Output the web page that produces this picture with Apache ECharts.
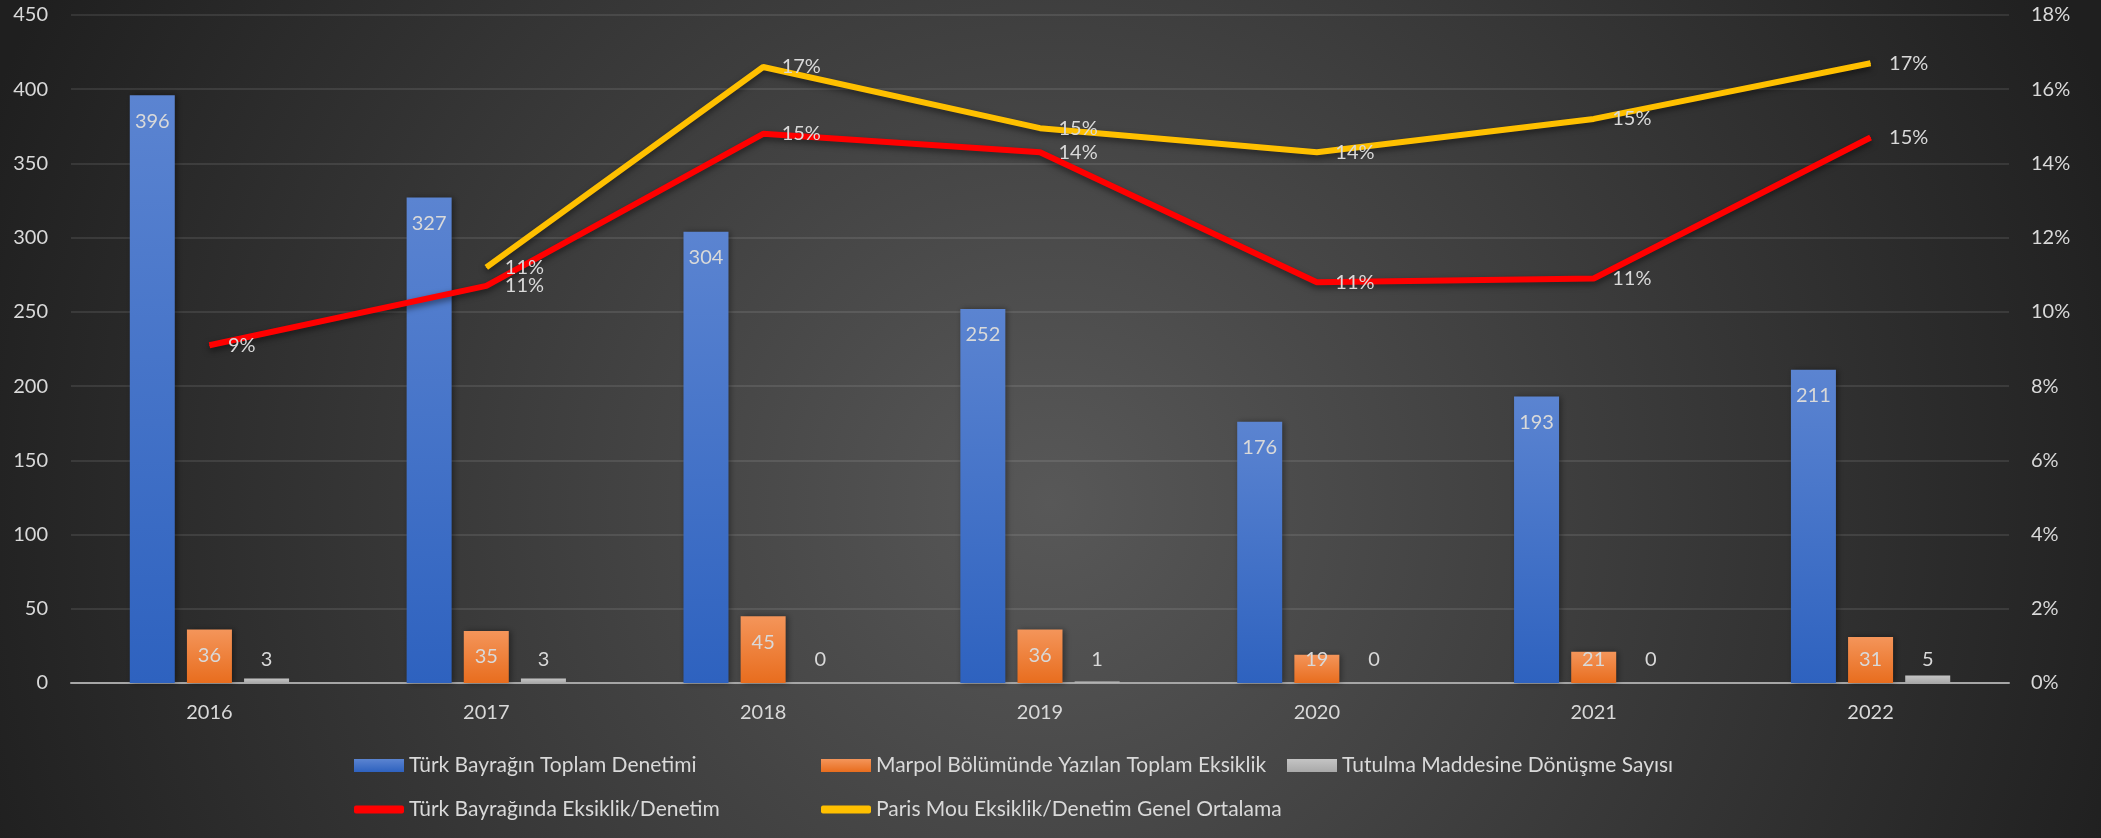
<!DOCTYPE html>
<html>
<head>
<meta charset="utf-8">
<title>Denetim grafiği</title>
<script src="https://cdn.jsdelivr.net/npm/echarts@6/dist/echarts.min.js"></script>
<style>
  html, body { margin: 0; padding: 0; background: #2a2a2a; }
  #chart { width: 2101px; height: 838px; }
</style>
</head>
<body>
<div id="chart"></div>
<script>
// veriler
const years = ['2016', '2017', '2018', '2019', '2020', '2021', '2022']
const toplamDenetim = [396, 327, 304, 252, 176, 193, 211]
const marpolEksiklik = [36, 35, 45, 36, 19, 21, 31]
const tutulmaSayisi = [3, 3, 0, 1, 0, 0, 5]
// yüzde değerleri (%)
const turkOran = [9.1, 10.7, 14.8, 14.3, 10.8, 10.9, 14.7]
const parisOran = [null, 11.2, 16.6, 14.95, 14.3, 15.2, 16.7]

const names = [
  'Türk Bayrağın Toplam Denetimi',
  'Marpol Bölümünde Yazılan Toplam Eksiklik',
  'Tutulma Maddesine Dönüşme Sayısı',
  'Türk Bayrağında Eksiklik/Denetim',
  'Paris Mou Eksiklik/Denetim Genel Ortalama'
]

const textColor = '#d9d9d9'
const fontFamily = 'Lato, "Noto Sans", sans-serif'

function grad(top, bottom) {
  return new echarts.graphic.LinearGradient(0, 0, 0, 1, [
    { offset: 0, color: top },
    { offset: 1, color: bottom }
  ])
}

const blue = grad('#5b84d1', '#2e62bf')
const orange = grad('#f4955a', '#e86d1e')
const gray = grad('#c4c4c4', '#a9a9a9')

function legendAt(name, left, top, icon, h) {
  return {
    data: [name],
    left: left,
    top: top,
    icon: icon,
    itemWidth: 50,
    itemHeight: h,
    textStyle: { color: textColor, fontSize: 21, fontFamily: fontFamily },
    selectedMode: false
  }
}

// kısa çubuklarda etiket eksenin üstünde kalsın (Excel gibi)
const marpolData = marpolEksiklik.map(v => v < 34
  ? { value: v, label: { position: 'insideBottom', distance: 13 } }
  : v)

const chart = echarts.init(document.getElementById('chart'))
chart.setOption({
  backgroundColor: {
    type: 'radial', x: 0.5, y: 0.6, r: 1.35,
    colorStops: [
      { offset: 0, color: '#585858' },
      { offset: 1, color: '#1f1f1f' }
    ]
  },
  textStyle: { fontFamily: fontFamily },
  animation: false,
  grid: { left: 71, right: 92, top: 15, bottom: 155 },
  legend: [
    legendAt(names[0], 349, 750, 'rect', 13),
    legendAt(names[1], 816, 750, 'rect', 13),
    legendAt(names[2], 1282, 750, 'rect', 13),
    legendAt(names[3], 349, 794, 'roundRect', 8),
    legendAt(names[4], 816, 794, 'roundRect', 8)
  ],
  xAxis: {
    type: 'category',
    data: years,
    axisLine: { lineStyle: { color: '#a6a6a6', width: 2 } },
    axisTick: { show: false },
    axisLabel: { color: textColor, fontSize: 20, margin: 20 }
  },
  yAxis: [{
    type: 'value',
    min: 0,
    max: 450,
    interval: 50,
    axisLine: { show: false },
    axisTick: { show: false },
    axisLabel: { color: textColor, fontSize: 20, margin: 23 },
    splitLine: { lineStyle: { color: 'rgba(255,255,255,0.13)', width: 1.5 } }
  }, {
    type: 'value',
    min: 0,
    max: 18,
    interval: 2,
    axisLine: { show: false },
    axisTick: { show: false },
    axisLabel: { color: textColor, fontSize: 20, margin: 22, formatter: '{value}%' },
    splitLine: { show: false }
  }],
  series: [{
    name: names[0],
    type: 'bar',
    data: toplamDenetim,
    barWidth: 45,
    barGap: '27%',
    itemStyle: { color: blue, shadowColor: 'rgba(0,0,0,0.4)', shadowBlur: 6, shadowOffsetX: 2 },
    label: { show: true, position: 'insideTop', distance: 16, color: textColor, fontSize: 20 }
  }, {
    name: names[1],
    type: 'bar',
    data: marpolData,
    barWidth: 45,
    itemStyle: { color: orange, shadowColor: 'rgba(0,0,0,0.4)', shadowBlur: 6, shadowOffsetX: 2 },
    label: { show: true, position: 'insideTop', distance: 16, color: textColor, fontSize: 20 }
  }, {
    name: names[2],
    type: 'bar',
    data: tutulmaSayisi,
    barWidth: 45,
    itemStyle: { color: gray },
    label: { show: true, position: 'insideBottom', distance: 13, color: textColor, fontSize: 20 }
  }, {
    name: names[3],
    type: 'line',
    yAxisIndex: 1,
    data: turkOran,
    symbol: 'circle',
    symbolSize: 1,
    itemStyle: { color: '#ff0000' },
    lineStyle: { color: '#ff0000', width: 6, shadowColor: 'rgba(0,0,0,0.5)', shadowBlur: 6, shadowOffsetY: 3 },
    label: {
      show: true, position: 'right', distance: 18, color: textColor, fontSize: 20,
      formatter: p => Math.round(p.value) + '%'
    }
  }, {
    name: names[4],
    type: 'line',
    yAxisIndex: 1,
    data: parisOran,
    symbol: 'circle',
    symbolSize: 1,
    itemStyle: { color: '#ffc000' },
    lineStyle: { color: '#ffc000', width: 6, shadowColor: 'rgba(0,0,0,0.5)', shadowBlur: 6, shadowOffsetY: 3 },
    label: {
      show: true, position: 'right', distance: 18, color: textColor, fontSize: 20,
      formatter: p => Math.round(p.value) + '%'
    }
  }]
})
</script>
</body>
</html>
